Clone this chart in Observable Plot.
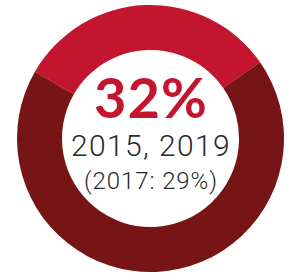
<!DOCTYPE html>
<html>
<head>
<meta charset="utf-8">
<script src="https://cdn.jsdelivr.net/npm/d3@7"></script>
<script src="https://cdn.jsdelivr.net/npm/@observablehq/plot@0.6"></script>
<style>
  html, body { margin: 0; padding: 0; background: #fff; }
  svg { display: block; }
</style>
</head>
<body>
<div id="chart"></div>
<script>
// Data
const categories = ["2015, 2019", "Other"];
const shares = [32, 68];
const colors = ["#c3162e", "#771415"];
const headline = "32%";
const yearsLabel = "2015, 2019";
const compareLabel = "(2017: 29%)";

const slices = categories.map((c, i) => ({category: c, value: shares[i], color: colors[i]}));

function donut(index, scales, values, dimensions) {
  const cx = scales.x(0), cy = scales.y(0);
  const R = Math.abs(scales.x(1) - cx);
  const r = R * 0.663;
  const pie = d3.pie().sort(null).value(d => d.value)
    .startAngle(-60 * Math.PI / 180).endAngle(300 * Math.PI / 180);
  const arc = d3.arc().innerRadius(r).outerRadius(R);
  const g = d3.create("svg:g").attr("transform", `translate(${cx},${cy})`);
  g.selectAll("path").data(pie(slices)).join("path")
    .attr("d", arc).attr("fill", d => d.data.color);
  return g.node();
}

const chart = Plot.plot({
  width: 289,
  height: 274,
  margin: 0,
  x: {domain: [-1, 1], range: [17, 284], axis: null},
  y: {domain: [-1, 1], range: [272, 5], axis: null},
  marks: [
    donut,
    Plot.text([headline], {x: 0, y: 0.161, text: d => d, fill: "#c3162e", fontSize: 56, fontWeight: "bold", fontFamily: "Lato", textAnchor: "middle", lineAnchor: "bottom"}),
    Plot.text([yearsLabel], {x: 0, y: -0.131, text: d => d, fill: "#2a2a2a", fontSize: 30, fontWeight: 300, fontFamily: "Roboto", textAnchor: "middle", lineAnchor: "bottom"}),
    Plot.text([compareLabel], {x: 0, y: -0.371, text: d => d, fill: "#2a2a2a", fontSize: 24, fontWeight: 300, fontFamily: "Roboto", textAnchor: "middle", lineAnchor: "bottom"})
  ]
});
d3.select(chart).selectAll("text").each(function() {
  const t = this.textContent;
  if (t === yearsLabel) this.style.letterSpacing = "1.4px";
  if (t === compareLabel) this.style.letterSpacing = "0.9px";
  if (t === headline) this.style.letterSpacing = "1px";
});
document.getElementById("chart").appendChild(chart);
</script>
</body>
</html>
